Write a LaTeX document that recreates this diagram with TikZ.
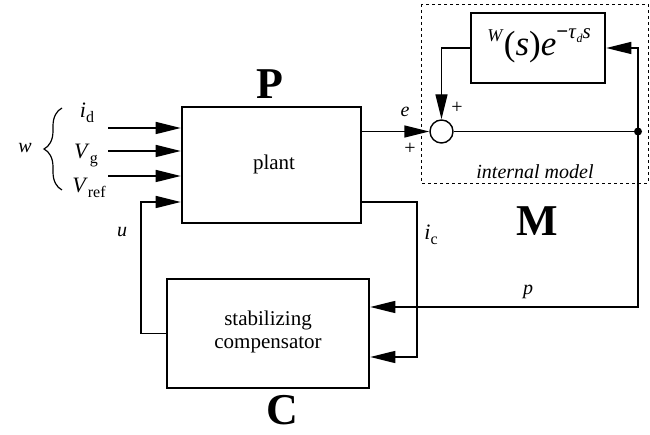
\documentclass[tikz,border=0pt]{standalone}
\usepackage{fontspec}
\setmainfont{Liberation Serif}
\usetikzlibrary{arrows.meta,decorations.pathreplacing}
\tikzset{
  block/.style={draw,line width=2.6pt,inner sep=0pt},
  sig/.style={line width=1.4pt},
  lbl/.style={font=\fontsize{20}{22}\selectfont\itshape,inner sep=0pt},
  boxtxt/.style={font=\fontsize{21}{23}\selectfont,align=center,inner sep=0pt},
  bigname/.style={font=\fontsize{44}{44}\selectfont\bfseries,inner sep=0pt},
  >={Triangle[length=25pt,width=12pt]}
}
\newcommand{\sigsub}[2]{\textit{#1}\raisebox{-5pt}{\fontsize{16}{16}\selectfont\upshape #2}}
\begin{document}
\begin{tikzpicture}[x=1pt,y=-1pt]
\useasboundingbox (0,0) rectangle (650,435);
% blocks
\node[block,minimum width=179pt,minimum height=116pt] (plant) at (271.5,165) {};
\node[boxtxt] (planttxt) at (274,164) {plant};
\node[block,minimum width=202pt,minimum height=109pt] (comp) at (268,333.5) {};
\node[boxtxt] (comptxt) at (268,332) {stabilizing\\compensator};
\node[block,minimum width=134pt,minimum height=70pt] (W) at (538,48) {};
\node[inner sep=0pt] (Wtxt) at (539,46) {\raisebox{14pt}{\fontsize{18}{18}\selectfont\itshape W}\,{\fontsize{35}{35}\selectfont(\textit{s})\textit{e}}\raisebox{17pt}{\fontsize{21}{21}\selectfont\textbf{−}\textit{τ}\raisebox{-4pt}{\fontsize{12}{12}\selectfont\textit{d}}\textit{s}}};
\node[draw,circle,line width=1.4pt,minimum size=23pt,inner sep=0pt] (sum) at (441.5,131.5) {};
\fill (638,131.5) circle (4pt) coordinate (dot);
\draw[dashed,line width=0.8pt] (421,4) rectangle (648,183);
% names
\node[bigname] (P) at (270,84) {P};
\node[bigname] (M) at (537,221) {M};
\node[bigname] (C) at (282,410) {C};
% inputs
\coordinate (in1) at (108,128);
\coordinate (in2) at (108,151);
\coordinate (in3) at (108,176);
\coordinate (u1) at (141,202);
\foreach \k in {1,2,3}
  \draw[sig,->] (in\k) -- (in\k -| plant.west);
\draw[sig,->] (comp.west) -| (u1) -- (u1 -| plant.west);
\draw[decorate,decoration={brace,amplitude=18pt},line width=1.2pt] (62,190) -- (62,108);
\node[lbl] (w) at (25,148) {w};
\node[lbl,font=\fontsize{22}{22}\selectfont,anchor=base] (id) at (87,118) {\sigsub{i}{d}};
\node[lbl,font=\fontsize{22}{22}\selectfont,anchor=base] (Vg) at (86,159) {\sigsub{V}{g}};
\node[lbl,font=\fontsize{22}{22}\selectfont,anchor=base] (Vref) at (89,193) {\sigsub{V}{ref}};
\node[lbl] (u) at (122,232) {u};
% plant output to compensator
\coordinate (ic1) at (417,202);
\coordinate (ic2) at (417,357);
\draw[sig,->] (ic1 -| plant.east) -- (ic1) -- (ic2) -- (ic2 -| comp.east);
\node[lbl,font=\fontsize{22}{22}\selectfont,anchor=base] (ic) at (431,240) {\sigsub{i}{c}};
% internal model loop
\draw[sig,->] (sum -| plant.east) -- (sum.west);
\draw[sig] (sum.east) -- (dot);
\draw[sig,->] (dot) |- (W.east);
\draw[sig,->] (W.west) -| (sum.north);
\node[lbl] (e) at (405,112) {e};
\node[font=\fontsize{20}{20}\selectfont,inner sep=0pt] (plus1) at (410,149) {+};
\node[font=\fontsize{20}{20}\selectfont,inner sep=0pt] (plus2) at (457,108) {+};
\node[lbl] (im) at (535,172) {internal model};
% measured output to compensator
\coordinate (p1) at (638,307);
\draw[sig,->] (dot) -- (p1) -- (p1 -| comp.east);
\node[lbl] (p) at (528,292) {p};
\end{tikzpicture}
\end{document}
